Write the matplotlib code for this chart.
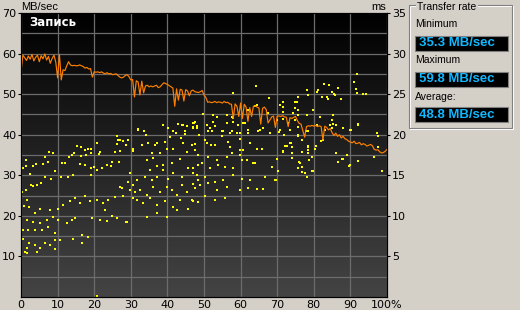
import numpy as np
import matplotlib
matplotlib.use("Agg")
import matplotlib.pyplot as plt
from matplotlib.patches import Rectangle
from matplotlib.colors import LinearSegmentedColormap

W, H = 520, 310

# write speed, MB/sec, one sample every 0.5 %
write_speed = [
    55.5, 59.6, 59.0, 58.3, 59.4, 58.6, 59.8, 58.2, 59.1, 59.6, 58.0, 59.5, 58.7, 59.9, 58.4, 59.3, 57.6, 58.8, 59.6, 57.9,
    54.0, 59.8, 53.5, 56.0, 55.8, 57.0, 58.0, 57.2, 57.0, 57.1, 57.0, 57.0, 57.2, 57.0, 56.8, 56.4, 56.6, 56.2, 56.3, 54.2,
    55.5, 55.4, 55.5, 55.3, 55.5, 55.2, 55.0, 55.3, 55.0, 55.1, 54.8, 54.9, 55.0, 54.6, 54.2, 54.0, 54.2, 54.6, 54.8, 54.3,
    53.5, 53.6, 49.3, 53.3, 53.0, 49.8, 53.2, 50.3, 52.0, 52.2, 51.8, 52.0, 51.8, 52.0, 52.2, 51.6, 51.8, 52.3, 52.8, 52.6,
    52.4, 52.1, 51.8, 51.5, 47.0, 51.3, 48.5, 51.2, 51.0, 48.3, 51.1, 50.8, 49.6, 50.8, 51.0, 50.6, 50.5, 50.4, 50.6, 50.9,
    49.8, 49.2, 48.0, 48.1, 47.9, 48.0, 48.2, 47.9, 48.1, 48.0, 47.8, 48.2, 47.9, 48.0, 47.6, 47.5, 44.0, 47.6, 47.0, 44.5,
    47.8, 44.0, 47.5, 46.8, 43.3, 46.7, 44.5, 47.0, 47.1, 46.8, 46.6, 42.6, 46.5, 46.8, 46.2, 42.9, 43.6, 44.4, 44.6, 41.8,
    44.6, 44.6, 44.5, 44.7, 44.4, 44.3, 42.0, 44.2, 44.0, 44.3, 44.5, 43.5, 42.8, 42.6, 41.0, 39.4, 42.0, 42.2, 42.1, 42.3,
    42.1, 42.3, 42.0, 42.2, 42.0, 38.7, 42.1, 41.8, 41.2, 41.5, 40.5, 39.8, 40.4, 39.6, 40.0, 39.2, 39.6, 39.0, 38.8, 38.4,
    38.2, 38.0, 38.4, 37.8, 37.9, 38.1, 37.5, 37.8, 37.6, 37.2, 37.4, 37.6, 37.3, 36.4, 36.2, 36.3, 35.8, 35.5, 35.6, 35.9, 36.4,
]
write_pos = np.arange(len(write_speed)) * 0.5

# access time samples: position (%) and time (ms)
access_pos = [
    91.9, 91.1, 91.5, 91.9, 93.5, 94.2, 82.9, 84.2, 85.1, 85.6, 86.7, 78.1, 78.5, 81.1, 82.2, 83.8, 87.3, 71.7, 74.9, 75.8,
    71.5, 75.8, 79.9, 74.4, 85.2, 71.7, 73.0, 75.8, 85.3, 85.1, 86.1, 92.1, 90.1, 97.4, 70.6, 71.9, 75.8, 77.9, 76.7, 81.9,
    82.6, 73.8, 72.8, 72.1, 78.5, 80.5, 80.4, 78.5, 78.5, 71.7, 74.0, 79.4, 78.8, 69.9, 70.0, 74.1, 86.2, 89.0, 87.8, 86.7,
    92.2, 89.6, 76.0, 76.7, 79.7, 76.9, 78.2, 68.5, 69.6,
    26.1, 27.0, 27.8, 26.1, 28.7, 32.1, 30.5, 27.0, 25.7, 15.4, 16.4, 18.4, 19.1, 20.9, 17.5, 21.6, 21.3, 14.5, 13.8, 13.2,
    16.4, 17.8, 19.0, 7.7, 8.8, 6.6, 7.5, 5.9, 4.1, 3.4, 1.4, 1.4, 0.5, 2.5, 9.3, 11.1, 12.0, 16.1, 17.5, 19.0,
    20.0, 20.9, 22.0, 23.4, 24.8, 26.8, 24.5, 19.1, 14.3, 12.9, 10.8, 8.1, 6.6, 5.4, 4.3, 3.4, 2.7, 1.4, 1.6, 0.2,
    0.8, 2.3, 3.8, 5.2, 7.9, 10.2, 11.6, 13.4, 14.8, 16.1, 17.5, 18.9, 20.7, 22.5, 23.9, 25.7, 27.9, 30.7, 29.8, 27.0,
    29.3, 31.1, 31.6, 29.8, 27.5, 23.0, 19.3, 21.6, 23.6, 24.8, 28.7, 14.8, 13.8, 12.5, 10.2, 8.8, 7.0, 5.2, 3.4, 1.7,
    0.5, 2.0, 3.8, 5.7, 7.5, 9.3, 10.7, 14.3, 16.6, 18.2, 9.3, 7.9, 6.6, 5.2, 3.8, 2.3, 1.6, 1.1, 1.7, 0.6,
    4.3, 9.3, 16.8, 20.8,
    26.6, 29.3, 30.7, 32.1, 33.6, 34.2, 33.0, 34.8, 36.6, 38.9, 40.2, 41.6, 43.0, 43.9, 45.3, 47.1, 48.0, 40.7, 42.3, 43.6,
    44.8, 37.1, 39.3, 38.0, 35.7, 34.3, 36.1, 39.8, 41.6, 44.3, 46.6, 47.5, 45.3, 43.4, 41.2, 38.9, 37.1, 35.2, 33.9, 35.7,
    37.1, 38.9, 40.2, 41.6, 43.9, 45.7, 47.1, 48.4, 30.7, 32.5, 34.3, 36.1, 38.0, 39.8, 41.2, 42.5, 43.9, 45.3, 47.5, 48.4,
    31.6, 33.4, 35.2, 37.1, 39.3, 41.6, 43.4, 45.7, 47.1, 34.3, 37.1, 39.8, 42.5, 26.1, 28.9,
    49.8, 52.5, 53.5, 56.2, 57.6, 47.3, 48.0, 46.9, 52.5, 53.0, 58.0, 59.4, 61.2, 51.2, 52.1, 55.3, 57.1, 58.9, 62.1, 65.3,
    68.0, 48.7, 50.3, 54.8, 56.6, 59.8, 62.6, 65.8, 47.5, 50.7, 51.8, 53.0, 57.1, 59.8, 60.7, 64.4, 73.5, 48.4, 51.2, 53.5,
    56.2, 57.6, 59.8, 61.8, 63.9, 71.7, 47.1, 49.4, 51.6, 53.9, 55.7, 58.0, 60.3, 63.5, 48.0, 50.3, 53.0, 55.3, 58.0, 60.3,
    62.6, 66.7, 69.4, 48.9, 51.2, 53.5, 56.2, 59.8, 62.1, 64.4, 66.2, 50.3, 53.0, 55.7, 46.6, 48.4, 47.1,
    84.4, 92.2, 89.9, 87.9, 92.2, 89.9, 76.2, 75.8, 77.6, 78.1, 79.4, 70.3, 74.0, 76.7, 78.5,
    64.2, 57.8, 67.8, 80.8, 83.5, 85.8, 75.3, 74.9, 70.8, 64.6, 88.1, 97.2, 78.1, 81.7, 75.8, 71.7, 74.9, 73.5, 69.9, 67.6,
    63.9, 62.1, 60.7, 56.2, 58.0, 47.5, 47.1, 44.3, 44.8, 50.7, 51.6, 54.8, 57.6, 59.8, 62.1, 64.8, 66.2, 70.8, 75.8, 78.5,
    80.8, 83.1, 84.9, 97.6, 97.5, 96.5, 98.5,
]
access_ms = [
    27.5, 26.5, 25.6, 25.2, 25.0, 25.0, 26.3, 26.1, 25.3, 25.0, 25.7, 25.5, 24.9, 25.5, 24.7, 24.4, 24.4, 24.0, 24.0, 24.6,
    23.4, 23.1, 23.1, 22.7, 22.4, 21.9, 21.4, 20.9, 21.3, 20.8, 21.2, 21.3, 20.6, 20.2, 20.3, 20.0, 19.9, 20.5, 19.4, 19.2,
    19.4, 19.0, 18.6, 18.6, 18.5, 18.6, 18.3, 18.1, 17.8, 18.0, 17.8, 17.3, 16.9, 17.0, 17.0, 17.1, 17.7, 17.5, 17.0, 16.6,
    16.8, 16.2, 16.6, 16.0, 15.5, 15.4, 14.8, 16.0, 14.4,
    19.9, 19.4, 19.2, 18.9, 18.7, 20.7, 18.0, 18.0, 17.9, 18.6, 18.5, 18.3, 18.3, 19.0, 18.1, 17.9, 17.6, 17.7, 17.5, 17.2,
    17.4, 17.5, 17.7, 17.9, 17.8, 17.3, 16.6, 16.4, 16.4, 16.1, 16.9, 16.2, 15.9, 15.2, 15.5, 16.5, 16.5, 16.4, 16.3, 15.9,
    16.0, 15.7, 15.9, 16.3, 16.6, 16.6, 16.1, 15.0, 15.0, 14.8, 14.8, 14.6, 14.8, 14.1, 13.8, 13.7, 13.8, 13.2, 11.9, 13.0,
    11.2, 11.1, 10.4, 10.9, 10.7, 10.9, 11.3, 11.8, 12.2, 11.6, 12.4, 11.8, 12.0, 11.6, 11.9, 12.3, 12.4, 12.2, 13.2, 13.6,
    14.2, 13.0, 14.4, 15.3, 13.4, 10.7, 9.7, 9.5, 9.4, 10.0, 9.3, 9.7, 9.5, 9.1, 9.5, 9.9, 9.5, 9.1, 9.3, 9.5,
    8.3, 8.3, 8.2, 8.3, 8.6, 7.9, 7.0, 7.2, 7.6, 7.4, 7.0, 6.4, 6.6, 6.0, 6.4, 6.7, 6.0, 5.6, 5.4, 7.2,
    5.6, 5.9, 6.7, 0.1,
    19.4, 19.4, 18.3, 20.6, 20.5, 20.0, 18.7, 19.0, 18.7, 21.2, 20.8, 20.5, 21.3, 21.2, 21.1, 21.4, 20.8, 19.7, 20.2, 19.6,
    20.1, 19.0, 19.1, 17.7, 17.7, 16.9, 17.1, 18.2, 18.3, 19.0, 18.7, 18.1, 17.9, 17.0, 16.5, 16.3, 16.1, 15.7, 14.8, 14.4,
    14.8, 15.7, 14.6, 15.3, 14.8, 15.9, 15.3, 16.3, 13.8, 13.2, 12.6, 13.6, 13.0, 13.6, 13.2, 12.6, 13.8, 13.0, 13.4, 14.4,
    12.0, 11.6, 12.2, 11.3, 11.8, 11.1, 12.0, 10.9, 11.8, 9.9, 10.3, 9.9, 10.7, 9.7, 9.3,
    22.6, 22.4, 22.2, 22.4, 22.2, 21.4, 21.1, 20.8, 21.6, 21.1, 21.6, 21.2, 21.4, 20.5, 20.4, 20.4, 20.2, 20.2, 20.2, 20.6,
    20.2, 20.0, 19.4, 19.8, 19.1, 19.5, 19.0, 18.3, 18.9, 19.0, 18.7, 18.7, 18.5, 18.1, 18.1, 18.3, 19.0, 17.5, 17.3, 16.9,
    17.3, 17.7, 17.5, 16.9, 16.5, 17.9, 15.9, 16.5, 15.9, 16.3, 16.0, 15.9, 16.9, 16.5, 15.0, 14.8, 14.2, 14.4, 15.0, 14.6,
    14.4, 14.8, 14.4, 13.8, 14.0, 13.2, 13.6, 13.2, 13.4, 13.3, 13.3, 12.4, 11.9, 12.2, 12.0, 11.7, 13.9,
    21.2, 21.2, 20.6, 17.0, 16.7, 16.3, 16.5, 15.9, 15.3, 14.8, 15.5, 15.5, 18.5, 17.9, 18.6,
    26.0, 25.2, 24.5, 25.3, 24.7, 24.9, 24.0, 23.3, 23.7, 23.7, 20.8, 20.2, 22.4, 22.2, 22.4, 22.8, 21.8, 20.6, 21.8, 22.7,
    23.5, 23.1, 21.4, 21.4, 22.0, 21.6, 21.0, 21.2, 20.4, 21.2, 20.8, 20.4, 20.4, 20.2, 20.6, 20.4, 20.8, 20.6, 20.0, 20.4,
    21.2, 20.6, 21.8, 19.8, 18.5, 17.3, 15.5,
]

mb_ticks = [10, 20, 30, 40, 50, 60, 70]
ms_ticks = [5, 10, 15, 20, 25, 30, 35]
pos_ticks = [0, 10, 20, 30, 40, 50, 60, 70, 80, 90, 100]
pos_labels = ['0', '10', '20', '30', '40', '50', '60', '70', '80', '90', '100%']

stat_names = ['Minimum', 'Maximum', 'Average:']
stat_values = ['35.3 MB/sec', '59.8 MB/sec', '48.8 MB/sec']

BG = '#d4d0c8'


def fx(px):
    return px / W


def fy(py):
    return 1 - py / H


fig = plt.figure(figsize=(W / 100, H / 100), dpi=100, facecolor=BG)
ax = fig.add_axes([fx(21), fy(297), (387 - 21) / W, (297 - 13) / H])
ax2 = ax.twinx()

# background gradient, grid and access dots live on the ms axis
cmap = LinearSegmentedColormap.from_list('bg', ['#000000', '#444444'])
ax2.imshow(np.linspace(0, 1, 256).reshape(-1, 1), cmap=cmap, extent=[0, 100, 0, 35],
           aspect='auto', origin='upper', zorder=0)
for v in pos_ticks:
    ax2.axvline(v, color='#6c6c6c', lw=0.9, zorder=1)
for h in np.arange(2.5, 35, 2.5):
    ax2.axhline(h, color='#6c6c6c', lw=0.9, zorder=1)
ax2.scatter(access_pos, access_ms, s=1.6, marker='s', c='#ffff00', linewidths=0, zorder=2)

ax.set_zorder(ax2.get_zorder() + 1)
ax.patch.set_visible(False)
ax.plot(write_pos, write_speed, color='#ff8000', lw=0.85)

ax.set_xlim(0, 100)
ax.set_ylim(0, 70)
ax2.set_ylim(0, 35)
ax2.set_xlim(0, 100)

ax.set_yticks(mb_ticks)
ax.set_xticks(pos_ticks, pos_labels)
ax2.set_yticks(ms_ticks)
ax.tick_params(axis='y', length=2.5, width=0.8, pad=1, labelsize=8)
ax.tick_params(axis='x', length=0, pad=2, labelsize=8)
ax2.tick_params(axis='y', length=2.5, width=0.8, pad=1, labelsize=8)
for a in (ax, ax2):
    for s in a.spines.values():
        s.set_color('#000000')
        s.set_linewidth(0.8)

fig.text(fx(21), fy(7), 'MB/sec', fontsize=8, family='Liberation Sans', ha='left', va='center')
fig.text(fx(386), fy(7), 'ms', fontsize=8, family='Liberation Sans', ha='right', va='center')
fig.text(fx(29), fy(23), 'Запись', fontsize=8.5, fontweight='bold', color='white', ha='left', va='center')

# transfer rate group box
fig.add_artist(Rectangle((fx(410), fy(129)), 103 / W, 123 / H, fill=False, ec='white', lw=0.8,
                         transform=fig.transFigure))
fig.add_artist(Rectangle((fx(409), fy(128)), 103 / W, 123 / H, fill=False, ec='#808080', lw=0.8,
                         transform=fig.transFigure))
fig.text(fx(417), fy(6.5), 'Transfer rate', fontsize=7.5, family='Liberation Sans', ha='left', va='center',
         bbox=dict(fc=BG, ec='none', pad=1))

label_y = [24, 60, 97]
box_top = [36, 72, 107]
for name, val, ly, bt in zip(stat_names, stat_values, label_y, box_top):
    fig.text(fx(415), fy(ly), name, fontsize=7.5, family='Liberation Sans', ha='left', va='center')
    fig.add_artist(Rectangle((fx(415), fy(bt + 15)), 93 / W, 15 / H, fc='black', ec='#808080', lw=0.8,
                             transform=fig.transFigure))
    fig.text(fx(419), fy(bt + 7.5), val, fontsize=9.5, family='Liberation Sans', fontweight='bold',
             color='#10b8ff', ha='left', va='center')

fig.savefig('out.png', dpi=100, facecolor=BG)
